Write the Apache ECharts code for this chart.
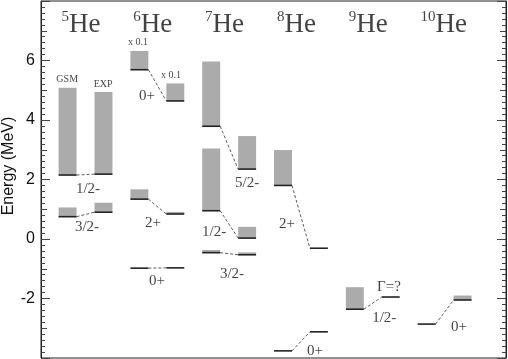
<!DOCTYPE html>
<html><head><meta charset="utf-8">
<script src="https://cdn.jsdelivr.net/npm/echarts@6/dist/echarts.min.js"></script>
<style>html,body{margin:0;padding:0;background:#fff}#c{width:508px;height:359px}</style>
</head><body><div id="c"></div>
<script>
// Nuclei (mass numbers); each nucleus has a GSM column (2n) and an EXP column (2n+1)
const nuclei = ['5', '6', '7', '8', '9', '10'];
// States: which nucleus, GSM level energy / top of width box, EXP level energy / top of width box (MeV)
const stateNucleus = [0, 0, 1, 1, 1, 2, 2, 2, 3, 3, 4, 5];
const gsmE   = [0.75, 2.15, -0.98, 1.34, 5.69, -0.46, 0.95, 3.79, -3.76, 1.80, -2.36, -2.86];
const gsmTop = [1.06, 5.08, -0.98, 1.67, 6.32, -0.37, 3.04, 5.97, -3.76, 2.99, -1.62, -2.86];
const expE   = [0.90, 2.18, -0.97, 0.84, 4.64, -0.53, 0.03, 2.35, -3.12, -0.31, -1.95, -2.05];
const expTop = [1.22, 4.94, -0.97, 0.91, 5.23, -0.45, 0.41, 3.46, -3.12, -0.31, -1.95, -1.90];
// Annotations (anchored in data coordinates: column units, MeV)
const noteText = ['1/2-', '3/2-', '0+', '2+', '0+', '5/2-', '1/2-', '3/2-', '2+', '0+', 'Γ=?', '1/2-', '0+'];
const noteX    = [0.57, 0.54, 2.21, 2.38, 2.49, 5.00, 4.08, 4.58, 6.11, 6.89, 8.95, 8.82, 10.90];
const noteY    = [1.68, 0.40, 4.80, 0.54, -1.41, 1.88, 0.23, -1.17, 0.50, -3.76, -1.61, -2.65, -2.95];
const smallText = ['GSM', 'EXP', 'x 0.1', 'x 0.1'];
const smallX    = [-0.01, 0.99, 1.96, 2.88];
const smallY    = [5.37, 5.20, 6.61, 5.50];
const yTicks = { min: -4, max: 8, major: 2, medium: 1 };
const yTitle = 'Energy (MeV)';

const levels = [];
const connectors = [];
stateNucleus.forEach((n, i) => {
  const g = 2 * n, x = 2 * n + 1;
  levels.push([g, gsmE[i], gsmTop[i]]);
  levels.push([x, expE[i], expTop[i]]);
  connectors.push([g, gsmE[i], x, expE[i]]);
});
const HALF = 0.25;

function renderLevel(params, api) {
  const col = api.value(0), e = api.value(1), top = api.value(2);
  const pL = api.coord([col - HALF, e]);
  const pR = api.coord([col + HALF, e]);
  const pT = api.coord([col - HALF, top]);
  const children = [];
  if (top > e) {
    children.push({ type: 'rect', shape: { x: pL[0], y: pT[1], width: pR[0] - pL[0], height: pL[1] - pT[1] },
      style: { fill: '#ababab' } });
  }
  children.push({ type: 'line', shape: { x1: pL[0], y1: pL[1], x2: pR[0], y2: pR[1] },
    style: { stroke: '#222', lineWidth: 1.6 } });
  return { type: 'group', children };
}
function renderConnector(params, api) {
  const a = api.coord([api.value(0) + HALF, api.value(1)]);
  const b = api.coord([api.value(2) - HALF, api.value(3)]);
  return { type: 'line', shape: { x1: a[0], y1: a[1], x2: b[0], y2: b[1] },
    style: { stroke: '#333', lineWidth: 0.8, lineDash: [3, 2] } };
}

const serif = 'Liberation Serif';
const yBase = { type: 'value', min: yTicks.min, max: yTicks.max, splitLine: { show: false } };
const tickStyle = { color: '#444' };
const chart = echarts.init(document.getElementById('c'));
chart.setOption({
  animation: false,
  grid: { left: 41, right: 2, top: 1, bottom: 1, show: true, borderColor: '#222', borderWidth: 1,
    containLabel: false, outerBoundsMode: 'none' },
  graphic: [{
    type: 'text', x: 9, y: 166, rotation: Math.PI / 2,
    style: { text: yTitle, fontSize: 16, fontFamily: 'Liberation Sans', fill: '#111',
      align: 'center', verticalAlign: 'middle' }
  }],
  xAxis: { type: 'value', min: -0.74, max: 12.21, show: false },
  yAxis: [
    Object.assign({}, yBase, {
      position: 'left', interval: yTicks.major,
      axisLine: { show: true, onZero: false, lineStyle: { color: '#222', width: 1 } },
      axisTick: { show: true, inside: true, length: 9, lineStyle: tickStyle },
      minorTick: { show: true, splitNumber: 10, length: 4, lineStyle: tickStyle },
      axisLabel: { showMinLabel: false, showMaxLabel: false, fontSize: 16, fontFamily: 'Liberation Sans', color: '#111', margin: 6 }
    }),
    Object.assign({}, yBase, {
      position: 'left', interval: yTicks.medium, axisLine: { show: false, onZero: false },
      axisTick: { show: true, inside: true, length: 6, lineStyle: tickStyle }, axisLabel: { show: false }
    }),
    Object.assign({}, yBase, {
      position: 'right', interval: yTicks.major,
      axisLine: { show: true, onZero: false, lineStyle: { color: '#222', width: 1 } },
      axisTick: { show: true, inside: true, length: 9, lineStyle: tickStyle },
      minorTick: { show: true, splitNumber: 10, length: 4, lineStyle: tickStyle },
      axisLabel: { show: false }
    }),
    Object.assign({}, yBase, {
      position: 'right', interval: yTicks.medium, axisLine: { show: false, onZero: false },
      axisTick: { show: true, inside: true, length: 6, lineStyle: tickStyle }, axisLabel: { show: false }
    })
  ],
  series: [
    { type: 'custom', renderItem: renderLevel, data: levels, yAxisIndex: 0, silent: true },
    { type: 'custom', renderItem: renderConnector, data: connectors, yAxisIndex: 0, silent: true },
    { type: 'scatter', symbolSize: 0, yAxisIndex: 0, silent: true,
      data: noteText.map((t, i) => ({ value: [noteX[i], noteY[i]], name: t })),
      label: { show: true, position: 'inside', formatter: p => p.name, fontFamily: serif, fontSize: 15, color: '#111' } },
    { type: 'scatter', symbolSize: 0, yAxisIndex: 0, silent: true,
      data: smallText.map((t, i) => ({ value: [smallX[i], smallY[i]], name: t })),
      label: { show: true, position: 'inside', formatter: p => p.name, fontFamily: serif,
        fontSize: 10, color: '#111' } },
    { type: 'scatter', symbolSize: 0, yAxisIndex: 0, silent: true,
      data: nuclei.map((a, n) => ({ value: [2 * n - 0.17, 7.2], name: a })),
      label: { show: true, position: 'inside', align: 'left', verticalAlign: 'middle',
        formatter: p => '{s|' + p.name + '}{h|He}',
        rich: {
          s: { fontFamily: serif, fontSize: 15, color: '#111', lineHeight: 15, verticalAlign: 'top' },
          h: { fontFamily: serif, fontSize: 27, color: '#111', lineHeight: 30 }
        } } }
  ]
});
</script></body></html>
